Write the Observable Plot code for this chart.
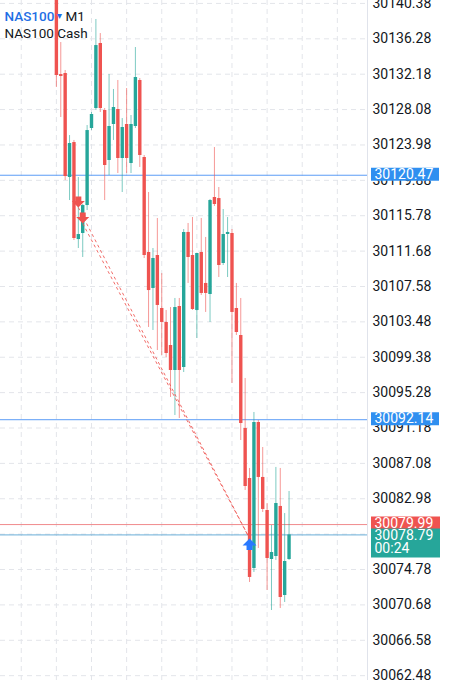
<!DOCTYPE html>
<html><head><meta charset="utf-8">
<script src="https://cdn.jsdelivr.net/npm/d3@7"></script>
<script src="https://cdn.jsdelivr.net/npm/@observablehq/plot@0.6"></script>
<style>body{margin:0;background:#fff}#chart svg{display:block}</style>
</head><body><div id="chart"></div>
<script>
// ---- data ----
const symbolName = "NAS100";
const timeframe = "M1";
const description = "NAS100 Cash";
const countdown = "00:24";

const opens = [30141.88, 30132.14, 30132.26, 30120.21, 30124.26, 30113.02, 30113.72, 30116.96, 30125.89, 30128.20,
30135.74, 30127.97, 30122.18, 30126.35, 30128.09, 30122.41, 30126.35, 30121.83, 30126.12, 30131.45,
30122.53, 30111.52, 30107.35, 30111.17, 30105.03, 30103.41, 30100.74, 30097.84, 30105.26, 30098.19,
30113.84, 30111.17, 30104.80, 30111.52, 30107.93, 30106.65, 30117.89, 30117.77, 30110.24, 30113.60,
30113.72, 30105.03, 30101.90, 30091.12, 30085.33, 30074.90, 30091.82, 30085.45, 30081.62, 30075.94,
30076.29, 30082.09, 30071.77, 30075.94];
const highs = [30143.04, 30135.85, 30132.61, 30125.07, 30124.50, 30120.21, 30117.08, 30126.23, 30127.74, 30138.52,
30136.89, 30128.20, 30132.14, 30130.41, 30131.45, 30127.04, 30130.52, 30127.39, 30135.27, 30131.68,
30122.76, 30118.47, 30111.98, 30115.46, 30109.08, 30104.80, 30105.14, 30106.19, 30106.19, 30114.18,
30114.88, 30115.57, 30111.40, 30115.46, 30113.26, 30117.66, 30123.68, 30119.05, 30116.50, 30115.57,
30114.18, 30107.93, 30106.19, 30096.92, 30086.49, 30092.98, 30092.05, 30088.92, 30082.43, 30079.88,
30086.61, 30086.49, 30081.27, 30083.82];
const lows = [30130.64, 30127.16, 30119.86, 30117.54, 30112.91, 30111.98, 30110.94, 30116.38, 30125.65, 30127.97,
30127.74, 30117.54, 30120.44, 30124.50, 30120.67, 30118.47, 30120.67, 30120.67, 30125.89, 30121.37,
30110.82, 30102.83, 30102.48, 30100.16, 30099.58, 30099.35, 30094.72, 30092.63, 30092.28, 30097.61,
30107.93, 30104.80, 30101.55, 30106.54, 30104.57, 30103.41, 30116.85, 30108.62, 30110.01, 30108.62,
30096.34, 30101.90, 30089.73, 30083.94, 30073.28, 30074.44, 30077.22, 30081.39, 30072.35, 30070.03,
30075.83, 30070.26, 30070.96, 30075.83];
const closes = [30132.03, 30131.91, 30120.32, 30124.15, 30113.14, 30113.60, 30116.96, 30125.65, 30127.51, 30135.50,
30128.20, 30121.60, 30126.12, 30128.32, 30122.41, 30126.00, 30122.41, 30126.35, 30131.80, 30122.76,
30111.17, 30107.11, 30110.82, 30105.38, 30103.41, 30099.81, 30097.84, 30105.14, 30097.84, 30113.84,
30110.94, 30104.91, 30111.40, 30106.77, 30106.77, 30117.54, 30117.08, 30110.01, 30113.60, 30113.84,
30104.57, 30102.25, 30091.70, 30084.40, 30073.86, 30091.82, 30085.45, 30081.74, 30076.06, 30076.75,
30082.43, 30071.54, 30075.71, 30078.79];

const priceTicks = ["30140.38","30136.28","30132.18","30128.08","30123.98","30119.88","30115.78","30111.68",
"30107.58","30103.48","30099.38","30095.28","30091.18","30087.08","30082.98","30078.88","30074.78",
"30070.68","30066.58","30062.48"];
const gridBars = [-8, 0, 8, 16, 24, 32, 40, 48, 56, 64];

const tradeEntryBar = [5, 6];
const tradeEntryPrice = [30116.73, 30114.88];
const tradeExitBar = [44, 44];
const tradeExitPrice = [30078.38, 30078.38];

const alertLevels = [30120.47, 30092.14];
const askPrice = 30079.99;
const lastPrice = 30078.79;

// ---- build tables ----
const candles = opens.map((o, i) => ({i, open: o, high: highs[i], low: lows[i], close: closes[i]}));
const trades = tradeEntryBar.map((b, k) => ({entryI: b, entryP: tradeEntryPrice[k], exitI: tradeExitBar[k], exitP: tradeExitPrice[k]}));
const tickValues = priceTicks.map(Number);

const UP = "#26a69a", DOWN = "#ef5350", BLUE = "#2f8ff0";
const col = d => d.close >= d.open ? UP : DOWN;
const xDomain = [-12.73, 70.87];
const yDomain = [30061.92, 30140.72];

// arrow glyphs (tip at the trade price)
const sellArrow = {draw(ctx) {
  ctx.moveTo(0, 0); ctx.lineTo(-6.5, -6.5); ctx.lineTo(-3, -6.5); ctx.lineTo(-3, -11);
  ctx.lineTo(3, -11); ctx.lineTo(3, -6.5); ctx.lineTo(6.5, -6.5); ctx.closePath();
}};
const buyArrow = {draw(ctx) {
  ctx.moveTo(0, 0); ctx.lineTo(-7, 7); ctx.lineTo(-3, 7); ctx.lineTo(-3, 11.5);
  ctx.lineTo(3, 11.5); ctx.lineTo(3, 7); ctx.lineTo(7, 7); ctx.closePath();
}};

const FONT = "Roboto, sans-serif";
const plot = Plot.plot({
  width: 453, height: 680,
  marginLeft: 0, marginRight: 86, marginTop: 0, marginBottom: 0,
  style: {fontFamily: FONT, fontSize: "14px", background: "#fff"},
  x: {domain: xDomain, axis: null},
  y: {domain: yDomain, axis: null},
  marks: [
    Plot.gridY(tickValues, {stroke: "#e3e5ea", strokeOpacity: 1, strokeDasharray: "5,4"}),
    Plot.gridX(gridBars, {stroke: "#e3e5ea", strokeOpacity: 1, strokeDasharray: "5,4"}),
    Plot.ruleY(alertLevels, {stroke: "#5b9cf6", strokeWidth: 1}),
    Plot.ruleY([askPrice], {stroke: "#f08a8c", strokeWidth: 1}),
    Plot.ruleY([lastPrice], {stroke: "#6aaed8", strokeWidth: 1}),
    Plot.ruleX(candles, {x: "i", y1: "low", y2: "high", stroke: col, strokeWidth: 1, strokeOpacity: 0.6, clip: true}),
    Plot.ruleX(candles, {x: "i", y1: "open", y2: "close", stroke: col, strokeWidth: 3.4, clip: true}),
    Plot.link(trades, {x1: "entryI", y1: "entryP", x2: "exitI", y2: "exitP", stroke: DOWN, strokeOpacity: 0.85, strokeWidth: 1, strokeDasharray: "3,3"}),
    Plot.dot(trades, {x: "entryI", y: "entryP", symbol: sellArrow, r: 6, fill: DOWN, stroke: null}),
    Plot.dot(trades.slice(0, 1), {x: "exitI", y: "exitP", symbol: buyArrow, r: 6, fill: "#2979ff", stroke: null}),
    Plot.ruleX([xDomain[1]], {stroke: "#e0e3eb"}),
    Plot.axisY(tickValues, {anchor: "right", tickSize: 0, tickPadding: 5, tickFormat: d => d.toFixed(2), fontSize: 14, fill: "#131722", label: null}),
    // header
    Plot.text([symbolName], {frameAnchor: "top-left", text: d => d, dx: 4, dy: 16, lineAnchor: "middle", textAnchor: "start", fontSize: 13.5, fontWeight: 500, fill: "#1f6fe5"}),
    Plot.text(["▾"], {frameAnchor: "top-left", text: d => d, dx: 59, dy: 15, lineAnchor: "middle", textAnchor: "middle", fontSize: 10, fill: "#1f6fe5"}),
    Plot.text([timeframe], {frameAnchor: "top-left", text: d => d, dx: 65, dy: 16, lineAnchor: "middle", textAnchor: "start", fontSize: 13.5, fill: "#131722"}),
    Plot.text([description], {frameAnchor: "top-left", text: d => d, dx: 4, dy: 33, lineAnchor: "middle", textAnchor: "start", fontSize: 13.5, fill: "#131722"}),
    // price labels
    Plot.ruleY(alertLevels, {stroke: BLUE, strokeWidth: 13, dy: -1, insetLeft: 371, insetRight: -72}),
    Plot.text(alertLevels, {y: d => d, text: d => d.toFixed(2), frameAnchor: "right", dx: 7, dy: -1, textAnchor: "start", lineAnchor: "middle", fontSize: 14, fill: "#fff"}),
    Plot.ruleY([askPrice], {stroke: DOWN, strokeWidth: 13, dy: -1.5, insetLeft: 371, insetRight: -73}),
    Plot.text([askPrice], {y: d => d, text: d => d.toFixed(2), frameAnchor: "right", dx: 7, dy: -1.5, textAnchor: "start", lineAnchor: "middle", fontSize: 14, fill: "#fff"}),
    Plot.ruleY([lastPrice], {stroke: UP, strokeWidth: 29, dy: 8, insetLeft: 371, insetRight: -73}),
    Plot.text([lastPrice], {y: d => d, text: d => d.toFixed(2), frameAnchor: "right", dx: 7, dy: 0.5, textAnchor: "start", lineAnchor: "middle", fontSize: 14, fill: "#fff"}),
    Plot.text([lastPrice], {y: d => d, text: () => countdown, frameAnchor: "right", dx: 7, dy: 14, textAnchor: "start", lineAnchor: "middle", fontSize: 14, fill: "#fff"})
  ]
});
document.getElementById("chart").append(plot);
</script>
</body></html>
